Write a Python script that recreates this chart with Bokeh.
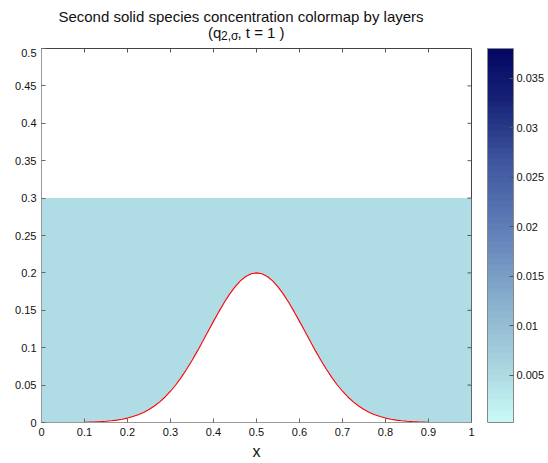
from math import pi
from bokeh.plotting import figure
from bokeh.layouts import column
from bokeh.models import (LinearAxis, FixedTicker, ColorBar, LinearColorMapper, Range1d)
from bokeh.core.properties import value
from bokeh.embed import file_html
from bokeh.resources import INLINE

# ---- data ----
x_vals = [0.0, 0.1, 0.1125, 0.125, 0.1375, 0.15, 0.1625, 0.175, 0.1875, 0.2, 0.2125,
          0.225, 0.2375, 0.25, 0.2625, 0.275, 0.2875, 0.3, 0.3125, 0.325, 0.3375, 0.35,
          0.3625, 0.375, 0.3875, 0.4, 0.4125, 0.425, 0.4375, 0.45, 0.4625, 0.475, 0.4875,
          0.5, 0.5125, 0.525, 0.5375, 0.55, 0.5625, 0.575, 0.5875, 0.6, 0.6125, 0.625,
          0.6375, 0.65, 0.6625, 0.675, 0.6875, 0.7, 0.7125, 0.725, 0.7375, 0.75, 0.7625,
          0.775, 0.7875, 0.8, 0.8125, 0.825, 0.8375, 0.85, 0.8625, 0.875, 0.8875, 0.9, 1.0]
bottom_vals = [0.0, 0.0004, 0.0006, 0.0008, 0.0012, 0.0017, 0.0023, 0.0032, 0.0044, 0.0059,
               0.0079, 0.0104, 0.0135, 0.0173, 0.0220, 0.0276, 0.0341, 0.0418, 0.0505,
               0.0603, 0.0711, 0.0829, 0.0954, 0.1085, 0.1219, 0.1352, 0.1482, 0.1605,
               0.1716, 0.1813, 0.1893, 0.1952, 0.1988, 0.2000, 0.1988, 0.1952, 0.1893,
               0.1813, 0.1716, 0.1605, 0.1482, 0.1352, 0.1219, 0.1085, 0.0954, 0.0829,
               0.0711, 0.0603, 0.0505, 0.0418, 0.0341, 0.0276, 0.0220, 0.0173, 0.0135,
               0.0104, 0.0079, 0.0059, 0.0044, 0.0032, 0.0023, 0.0017, 0.0012, 0.0008,
               0.0006, 0.0004, 0.0]
layer_top = 0.3
layer_fill_color = "#B0DDE5"

x_ticks = [0, 0.1, 0.2, 0.3, 0.4, 0.5, 0.6, 0.7, 0.8, 0.9, 1]
x_tick_labels = ["0", "0.1", "0.2", "0.3", "0.4", "0.5", "0.6", "0.7", "0.8", "0.9", "1"]
y_ticks = [0, 0.05, 0.1, 0.15, 0.2, 0.25, 0.3, 0.35, 0.4, 0.45, 0.5]
y_tick_labels = ["0", "0.05", "0.1", "0.15", "0.2", "0.25", "0.3", "0.35", "0.4", "0.45", "0.5"]
cb_ticks = [0.005, 0.01, 0.015, 0.02, 0.025, 0.03, 0.035]
cb_tick_labels = ["0.005", "0.01", "0.015", "0.02", "0.025", "0.03", "0.035"]
cb_low, cb_high = 0.0002, 0.038

title_line1 = "Second solid species concentration colormap by layers"
title_line2_parts = ["(q", "2,σ", ", t = 1 )"]

# ---- palette (light cyan -> navy) ----
stops = [(0.0, (200, 248, 246)), (0.15, (168, 212, 222)), (0.3, (140, 180, 208)),
         (0.5, (100, 130, 186)), (0.7, (62, 86, 158)), (0.87, (22, 34, 118)),
         (1.0, (4, 8, 100))]
palette = []
n = 64
for i in range(n):
    t = i / (n - 1)
    for (t0, c0), (t1, c1) in zip(stops[:-1], stops[1:]):
        if t0 <= t <= t1:
            f = (t - t0) / (t1 - t0)
            c = [round(a + (b - a) * f) for a, b in zip(c0, c1)]
            palette.append("#%02x%02x%02x" % tuple(c))
            break

FONT = "Liberation Sans"
TXT = "#111111"

# ---- title strip (frame aligned with the main plot frame; page pixel coords) ----
tf = figure(frame_width=430, frame_height=48, output_backend="svg", toolbar_location=None,
            x_range=Range1d(41, 471), y_range=Range1d(48, 0),
            min_border_left=41, min_border_right=77, min_border_top=0, min_border_bottom=0,
            x_axis_location=None, y_axis_location=None)
tf.outline_line_color = None
tf.grid.visible = False
tf.text(x=[240.5], y=[15.5], text=[title_line1], text_align="center",
        text_baseline="alphabetic", text_font=value(FONT), text_font_size="15px",
        text_color=TXT)
tf.text(x=[207.5, 220.5, 237], y=[31.5, 35.5, 31.5], text=title_line2_parts,
        text_align="left", text_baseline="alphabetic", text_font=value(FONT),
        text_font_size=["15px", "12px", "15px"], text_color=TXT)

# ---- main plot ----
p = figure(frame_width=430, frame_height=374, output_backend="svg", toolbar_location=None,
           x_range=Range1d(0, 1), y_range=Range1d(0, 0.5),
           min_border_left=41, min_border_top=0, min_border_bottom=41, min_border_right=77,
           x_axis_location=None, y_axis_location=None)
p.background_fill_color = "white"
p.border_fill_color = "white"
p.outline_line_color = "#444444"
p.grid.visible = False

p.varea(x=x_vals, y1=bottom_vals, y2=[layer_top] * len(x_vals), fill_color=layer_fill_color)
p.line(x=x_vals, y=bottom_vals, line_color="red", line_width=1.1)

# inward ticks on top and right edges
p.ray(x=x_ticks, y=[y_ticks[-1]] * len(x_ticks), length=4, length_units="screen",
      angle=-pi / 2, line_color="#555555")
p.ray(x=[x_ticks[-1]] * len(y_ticks), y=y_ticks, length=4, length_units="screen",
      angle=pi, line_color="#555555")

def style_axis(ax, labels, ticks):
    ax.ticker = FixedTicker(ticks=ticks)
    ax.major_label_overrides = {t: l for t, l in zip(ticks, labels)}
    ax.major_tick_in = 4
    ax.major_tick_out = 0
    ax.minor_tick_in = 0
    ax.minor_tick_out = 0
    ax.major_tick_line_color = "#666666"
    ax.axis_line_color = "#999999"
    ax.major_label_text_font = FONT
    ax.major_label_text_font_size = "11px"
    ax.major_label_text_color = TXT
    ax.major_label_standoff = 5

xb = LinearAxis(axis_label="x", axis_label_text_font=FONT, axis_label_text_font_size="16px",
                axis_label_text_font_style="normal", axis_label_text_color=TXT,
                axis_label_standoff=4)
style_axis(xb, x_tick_labels, x_ticks)
p.add_layout(xb, "below")
yl = LinearAxis()
style_axis(yl, y_tick_labels, y_ticks)
p.add_layout(yl, "left")

mapper = LinearColorMapper(palette=palette, low=cb_low, high=cb_high)
cb = ColorBar(color_mapper=mapper, width=26, height=374, location=(16, 0),
              padding=0, margin=0,
              ticker=FixedTicker(ticks=cb_ticks),
              major_label_overrides={t: l for t, l in zip(cb_ticks, cb_tick_labels)},
              major_label_text_font=FONT, major_label_text_font_size="11px",
              major_label_text_color=TXT, label_standoff=3,
              major_tick_in=4, major_tick_out=0, major_tick_line_color="#555555",
              bar_line_color="#888888", border_line_color=None,
              background_fill_color=None)
p.add_layout(cb, "right")

layout = column(tf, p)
open("out.html", "w").write(file_html(layout, INLINE))
